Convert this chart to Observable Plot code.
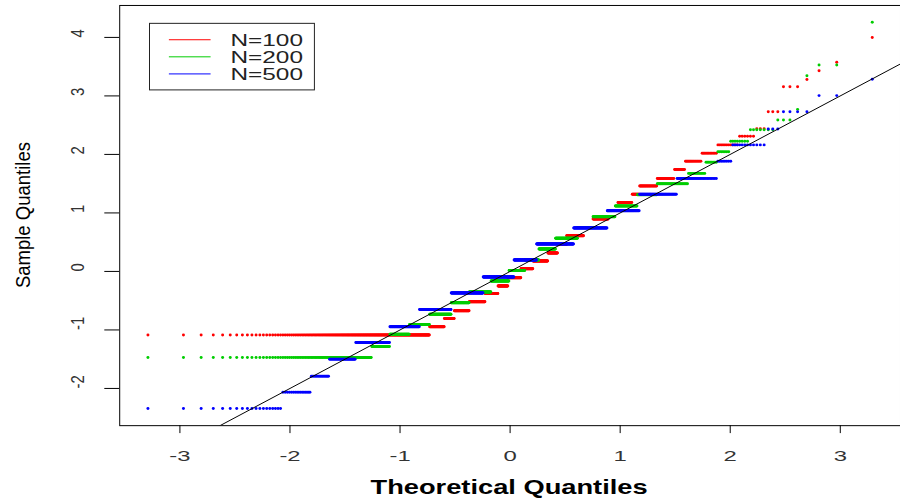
<!DOCTYPE html>
<html><head><meta charset="utf-8">
<script src="https://cdn.jsdelivr.net/npm/d3@7"></script>
<script src="https://cdn.jsdelivr.net/npm/@observablehq/plot@0.6"></script>
<style>
html,body{margin:0;padding:0;background:#fff;overflow:hidden}
#wrap{width:900px;height:504px;overflow:hidden;position:relative;background:#fff}
</style></head><body><div id="wrap"></div>
<script>
// ---- data: distinct sample values and how many of the 1000 sample quantiles sit at each ----
const seriesNames = ["N=100", "N=200", "N=500"];
const seriesColors = ["#ff0000", "#00cd00", "#0000ff"];

const levels100 = [-1.087,-0.944,-0.803,-0.672,-0.52,-0.379,-0.248,-0.107,0.046,0.177,0.317,0.46,0.611,0.75,0.895,1.04,1.178,1.319,1.46,1.59,1.744,1.885,2.02,2.163,2.309,2.44,2.728,3.158,3.28,3.43,3.577,4.0];
const counts100 = [232,43,31,49,55,46,36,47,43,52,33,29,52,26,40,22,30,14,29,23,12,15,11,11,6,3,3,3,1,1,1,1];

const levels200 = [-1.47,-1.284,-1.075,-0.905,-0.73,-0.537,-0.35,-0.163,0.017,0.194,0.385,0.567,0.75,0.934,1.12,1.31,1.50,1.676,1.868,2.044,2.224,2.42,2.59,2.77,3.345,3.53,4.26];
const counts200 = [104,33,43,52,64,59,76,65,57,50,57,70,44,56,46,33,38,15,8,7,8,7,3,1,1,2,1];

const levels500 = [-2.343,-2.065,-1.793,-1.499,-1.216,-0.944,-0.65,-0.37,-0.095,0.194,0.47,0.742,1.036,1.319,1.59,1.885,2.163,2.435,2.728,3.005,3.283];
const counts500 = [19,16,15,30,57,68,91,107,111,81,123,93,69,55,35,8,12,3,4,2,1];

const xTicks = [-3, -2, -1, 0, 1, 2, 3];
const yTicks = [-2, -1, 0, 1, 2, 3, 4];
const refIntercept = 0, refSlope = 1;
const xTitle = "Theoretical Quantiles";
const yTitle = "Sample Quantiles";

// ---- normal quantile function (for the theoretical quantiles of a Q-Q plot) ----
function qnorm(p) {
  const a=[-3.969683028665376e+01,2.209460984245205e+02,-2.759285104469687e+02,1.383577518672690e+02,-3.066479806614716e+01,2.506628277459239e+00];
  const b=[-5.447609879822406e+01,1.615858368580409e+02,-1.556989798598866e+02,6.680131188771972e+01,-1.328068155288572e+01];
  const c=[-7.784894002430293e-03,-3.223964580411365e-01,-2.400758277161838e+00,-2.549732539343734e+00,4.374664141464968e+00,2.938163982698783e+00];
  const d=[7.784695709041462e-03,3.224671290700398e-01,2.445134137142996e+00,3.754408661907416e+00];
  const pl = 0.02425, ph = 1 - pl;
  let q, r;
  if (p < pl) { q = Math.sqrt(-2*Math.log(p)); return (((((c[0]*q+c[1])*q+c[2])*q+c[3])*q+c[4])*q+c[5])/((((d[0]*q+d[1])*q+d[2])*q+d[3])*q+1); }
  if (p > ph) { q = Math.sqrt(-2*Math.log(1-p)); return -(((((c[0]*q+c[1])*q+c[2])*q+c[3])*q+c[4])*q+c[5])/((((d[0]*q+d[1])*q+d[2])*q+d[3])*q+1); }
  q = p - 0.5; r = q*q;
  return (((((a[0]*r+a[1])*r+a[2])*r+a[3])*r+a[4])*r+a[5])*q/(((((b[0]*r+b[1])*r+b[2])*r+b[3])*r+b[4])*r+1);
}

function qqRows(name, levels, counts) {
  const sample = [];
  levels.forEach((v, k) => { for (let j = 0; j < counts[k]; j++) sample.push(v); });
  const n = sample.length;
  return sample.map((v, i) => ({series: name, x: qnorm((i + 0.5) / n), y: v}));
}

const rows = [
  ...qqRows(seriesNames[0], levels100, counts100),
  ...qqRows(seriesNames[1], levels200, counts200),
  ...qqRows(seriesNames[2], levels500, counts500)
];

const xDomain = [-3.547, 3.547];
const yDomain = [-2.636, 4.546];
const refLine = xDomain.map(x => ({x, y: refIntercept + refSlope * x}));

const chart = Plot.plot({
  width: 906, height: 504,
  marginLeft: 120, marginRight: 0, marginTop: 5, marginBottom: 76,
  style: {fontFamily: "'Liberation Sans', Arial, sans-serif", background: "#fff", color: "#000"},
  x: {domain: xDomain},
  y: {domain: yDomain},
  color: {domain: seriesNames, range: seriesColors},
  marks: [
    Plot.dot(rows, {x: "x", y: "y", fill: "series", r: 1.5}),
    Plot.line(refLine, {x: "x", y: "y", stroke: "#000", strokeWidth: 1, clip: true}),
    Plot.frame({stroke: "#000"}),
    Plot.axisX({ticks: xTicks, tickSize: 8, tickPadding: 17, fontSize: 15, label: null, tickFormat: d => String(d), fill: "#333"}),
    Plot.axisY({ticks: yTicks, tickSize: 15, label: null, tickFormat: () => ""}),
    Plot.text(yTicks, {y: d => d, text: d => String(d), frameAnchor: "left", dx: -42, rotate: -90, fontSize: 15, fill: "#333"})
  ]
});
document.getElementById("wrap").appendChild(chart);

const svg = d3.select(chart);
function stretch(el, factor) {
  const w = el.getComputedTextLength();
  el.setAttribute("textLength", (w * factor).toFixed(1));
  el.setAttribute("lengthAdjust", "spacingAndGlyphs");
}
svg.selectAll('g[aria-label="x-axis tick label"] text').each(function() { stretch(this, 1.6); });
svg.selectAll('g[aria-label="text"] text').each(function() {
  const t = this.getAttribute("transform") || "";
  this.setAttribute("transform", t + " scale(1,1.25)");
});

// axis titles
svg.append("text").attr("x", 512.5).attr("y", 497).attr("text-anchor", "middle")
  .attr("font-size", 21).attr("font-weight", "bold").attr("fill", "#000")
  .attr("textLength", 279).attr("lengthAdjust", "spacingAndGlyphs").text(xTitle);
svg.append("text").attr("transform", "translate(30,216.5) rotate(-90) scale(1,1.1)").attr("text-anchor", "middle")
  .attr("font-size", 19).attr("fill", "#000").attr("textLength", 147).attr("lengthAdjust", "spacingAndGlyphs").text(yTitle);

// legend
const lg = svg.append("g");
lg.append("rect").attr("x", 150.5).attr("y", 23.5).attr("width", 166).attr("height", 67)
  .attr("fill", "#fff").attr("stroke", "#222");
seriesNames.forEach((name, i) => {
  const y = 40 + i * 17.2;
  lg.append("line").attr("x1", 170).attr("x2", 212).attr("y1", y).attr("y2", y).attr("stroke", seriesColors[i]).attr("stroke-width", 1);
  lg.append("text").attr("x", 232).attr("y", y + 6).attr("text-anchor", "start").attr("font-size", 16).attr("fill", "#222")
    .attr("textLength", 73).attr("lengthAdjust", "spacingAndGlyphs").text(name);
});
</script></body></html>
